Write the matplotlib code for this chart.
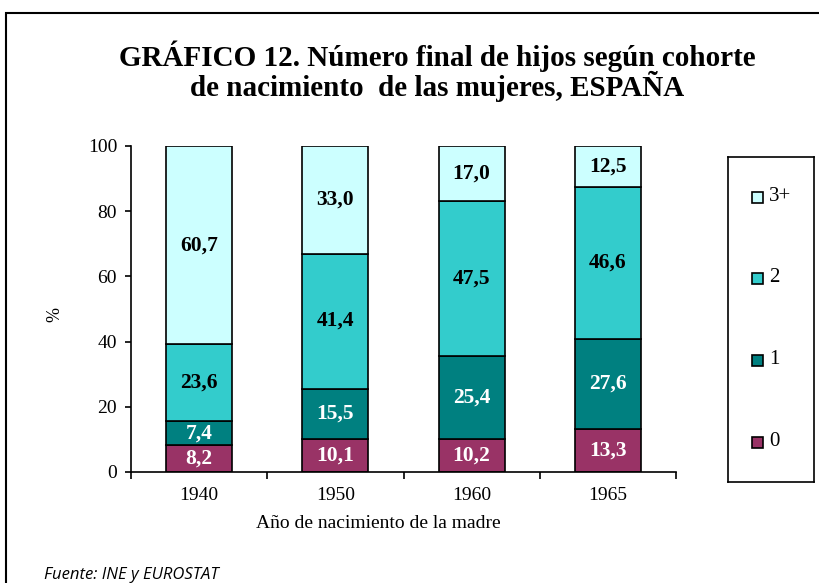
import matplotlib
matplotlib.use("Agg")
import matplotlib.pyplot as plt
from matplotlib.patches import Rectangle
import numpy as np

cohorts = ["1940", "1950", "1960", "1965"]
series_names = ["0", "1", "2", "3+"]
v0 = [8.2, 10.1, 10.2, 13.3]
v1 = [7.4, 15.5, 25.4, 27.6]
v2 = [23.6, 41.4, 47.5, 46.6]
v3 = [60.7, 33.0, 17.0, 12.5]
colors = ["#993366", "#008080", "#33CCCC", "#CCFFFF"]
text_colors = ["white", "white", "black", "black"]

serif = ["Liberation Serif", "DejaVu Serif"]

fig = plt.figure(figsize=(8.19, 5.83), dpi=100)
W, H = 819, 583

def fx(px):
    return px / W

def fy(py):
    return 1 - py / H

# outer border (extends off right/bottom)
fig.patches.append(Rectangle((fx(6), fy(700)), 1.5, fy(13) - fy(700),
                             transform=fig.transFigure, fill=False,
                             edgecolor="black", linewidth=1.5))

ax = fig.add_axes([fx(131), fy(472), fx(676) - fx(131), fy(146) - fy(472)])
x = np.arange(len(cohorts))
bottom = np.zeros(len(cohorts))
all_vals = [v0, v1, v2, v3]
for vals, c, tc in zip(all_vals, colors, text_colors):
    vals = np.array(vals)
    ax.bar(x, vals, width=0.485, bottom=bottom, color=c,
           edgecolor="black", linewidth=1.2)
    for xi, b, v in zip(x, bottom, vals):
        ax.text(xi, b + v / 2, f"{v:.1f}".replace(".", ","), ha="center",
                va="center", color=tc, fontsize=15.5, fontweight="bold",
                family=serif)
    bottom = bottom + vals

ax.set_xlim(-0.5, len(cohorts) - 0.5)
ax.set_ylim(0, 100)
ax.set_yticks([0, 20, 40, 60, 80, 100])
ax.set_xticks(np.arange(len(cohorts) + 1) - 0.5)
ax.set_xticklabels([])
ax.set_xticks(x, minor=True)
ax.set_xticklabels(cohorts, minor=True)
ax.tick_params(axis="x", which="minor", length=0, pad=11)
ax.tick_params(axis="x", which="major", length=5, width=1.2)
ax.tick_params(axis="y", length=4, width=1.2, pad=6)
for lab in ax.get_yticklabels() + ax.get_xticklabels(minor=True):
    lab.set_family(serif)
    lab.set_fontsize(14)
for s in ["top", "right"]:
    ax.spines[s].set_visible(False)
for s in ["left", "bottom"]:
    ax.spines[s].set_linewidth(1.2)

ax.set_ylabel("%", family=serif, fontsize=13, va="center", ha="center")
ax.yaxis.set_label_coords(-(131 - 55) / 545, (472 - 314) / 326)
ax.set_xlabel("Año de nacimiento de la madre", family=serif, fontsize=14)
ax.xaxis.set_label_coords((378 - 131) / 545, -(523 - 472) / 326)
ax.xaxis.label.set_va("center")

fig.text(fx(437), fy(66), "GRÁFICO 12. Número final de hijos según cohorte",
         ha="center", va="baseline", family=serif, fontweight="bold", fontsize=21)
fig.text(fx(437), fy(96), "de nacimiento  de las mujeres, ESPAÑA",
         ha="center", va="baseline", family=serif, fontweight="bold", fontsize=21)

fig.text(fx(44), fy(575), "Fuente: INE y EUROSTAT", ha="left", va="center",
         family=["Open Sans", "DejaVu Sans"], style="italic", fontsize=12)

# legend box
lax = fig.add_axes([fx(728), fy(482), fx(814) - fx(728), fy(157) - fy(482)])
lax.set_xlim(0, 86)
lax.set_ylim(482, 157)
lax.set_xticks([])
lax.set_yticks([])
for s in lax.spines.values():
    s.set_linewidth(1.2)
ys = [442, 360, 278, 197]
for name, c, yy in zip(series_names, colors, ys):
    lax.add_patch(Rectangle((24, yy - 5), 11, 11, facecolor=c,
                            edgecolor="black", linewidth=1.2))
    lax.text(41, yy, name, va="center", ha="left", family=serif, fontsize=15)

fig.savefig("out.png", dpi=100)
